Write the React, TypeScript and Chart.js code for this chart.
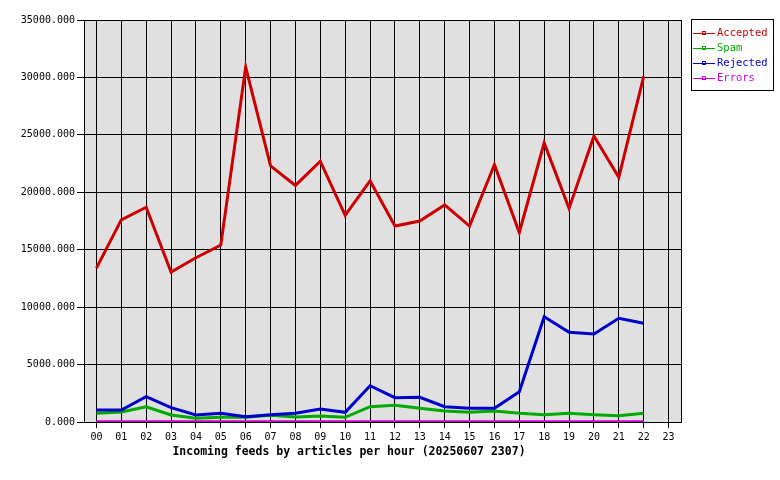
import React, { useEffect, useRef } from "react";
import { Chart, registerables } from "chart.js";

Chart.register(...registerables);

const hours = ["00","01","02","03","04","05","06","07","08","09","10","11","12","13","14","15","16","17","18","19","20","21","22","23"];
const accepted = [13400,17600,18700,13050,14300,15400,30900,22300,20600,22700,18000,21000,17060,17500,18900,17060,22400,16500,24300,18600,24900,21300,30100,null];
const spam = [760,870,1330,610,320,410,410,580,435,520,410,1330,1450,1190,960,840,960,760,640,760,640,550,760,null];
const rejected = [1045,1045,2200,1245,610,760,460,640,760,1130,840,3160,2120,2150,1330,1190,1190,2640,9170,7810,7660,9030,8590,null];
const errors = [20,20,20,20,20,20,20,20,20,20,20,20,20,20,20,20,20,20,20,20,20,20,20,null];

const seriesNames = ["Accepted", "Spam", "Rejected", "Errors"];
const seriesColors = ["#cc0000", "#00aa00", "#0000cc", "#cc00cc"];
const xTitle = "Incoming feeds by articles per hour (20250607 2307)";

const MONO = "'DejaVu Sans Mono', 'Liberation Mono', monospace";

export default function App() {
  const ref = useRef<HTMLCanvasElement | null>(null);
  useEffect(() => {
    document.body.style.margin = "0";
    const canvas = ref.current!;
    const decor = {
      id: "decor",
      beforeDraw(chart: any) {
        const { ctx, chartArea: a } = chart;
        ctx.save();
        ctx.fillStyle = "#ffffff";
        ctx.fillRect(0, 0, chart.width, chart.height);
        ctx.fillStyle = "#e0e0e0";
        ctx.fillRect(a.left, a.top, a.right - a.left, a.bottom - a.top);
        ctx.restore();
      },
      afterDraw(chart: any) {
        const { ctx, chartArea: a } = chart;
        ctx.save();
        ctx.strokeStyle = "#000";
        ctx.lineWidth = 1;
        ctx.strokeRect(Math.round(a.left) + 0.5, Math.round(a.top) + 0.5, Math.round(a.right - a.left), Math.round(a.bottom - a.top));
        // x title
        ctx.fillStyle = "#000";
        ctx.font = "bold 11.5px " + MONO;
        ctx.textAlign = "center";
        ctx.textBaseline = "middle";
        ctx.fillText(xTitle, 349, 452);
        // legend
        const lx = 691, ly = 19, lw = 82, lh = 71;
        ctx.fillStyle = "#fff";
        ctx.fillRect(lx, ly, lw, lh);
        ctx.strokeStyle = "#000";
        ctx.strokeRect(lx + 0.5, ly + 0.5, lw, lh);
        ctx.font = "10.5px " + MONO;
        ctx.textAlign = "left";
        seriesNames.forEach((n, i) => {
          const y = 33 + i * 15;
          ctx.strokeStyle = seriesColors[i];
          ctx.beginPath();
          ctx.moveTo(693, y + 0.5);
          ctx.lineTo(715, y + 0.5);
          ctx.stroke();
          ctx.strokeRect(702.5, y - 1.5, 3, 3);
          ctx.fillStyle = seriesColors[i];
          ctx.fillText(n, 717, y);
        });
        ctx.restore();
      },
    };
    const datasets = [accepted, spam, rejected, errors].map((d, i) => ({
      label: seriesNames[i],
      data: d,
      borderColor: seriesColors[i],
      backgroundColor: seriesColors[i],
      borderWidth: 3,
      pointRadius: 0,
      tension: 0,
      fill: false,
      order: [0, 2, 1, 3][i],
    }));
    const chart = new Chart(canvas, {
      type: "line",
      data: { labels: hours, datasets },
      options: {
        responsive: false,
        animation: false,
        layout: { padding: { left: 0, right: 99, top: 20, bottom: 0 } },
        plugins: { legend: { display: false }, tooltip: { enabled: false }, title: { display: false } },
        scales: {
          x: {
            offset: true,
            grid: { color: "#000", lineWidth: 1, offset: false, tickLength: 6, drawOnChartArea: true },
            border: { color: "#000", width: 1 },
            ticks: { color: "#000", font: { family: MONO, size: 10 }, autoSkip: false, maxRotation: 0, padding: 3 },
            afterFit: (s: any) => { s.height = 58; },
          },
          y: {
            min: 0,
            max: 35000,
            grid: { color: "#000", lineWidth: 1, tickLength: 7 },
            border: { color: "#000", width: 1 },
            ticks: { stepSize: 5000, color: "#000", font: { family: MONO, size: 10 }, padding: 2, callback: (v: any) => Number(v).toFixed(3) },
            afterFit: (s: any) => { s.width = 84; },
          },
        },
      },
      plugins: [decor],
    });
    return () => chart.destroy();
  }, []);
  return <canvas ref={ref} width={780} height={480} style={{ display: "block" }} />;
}
